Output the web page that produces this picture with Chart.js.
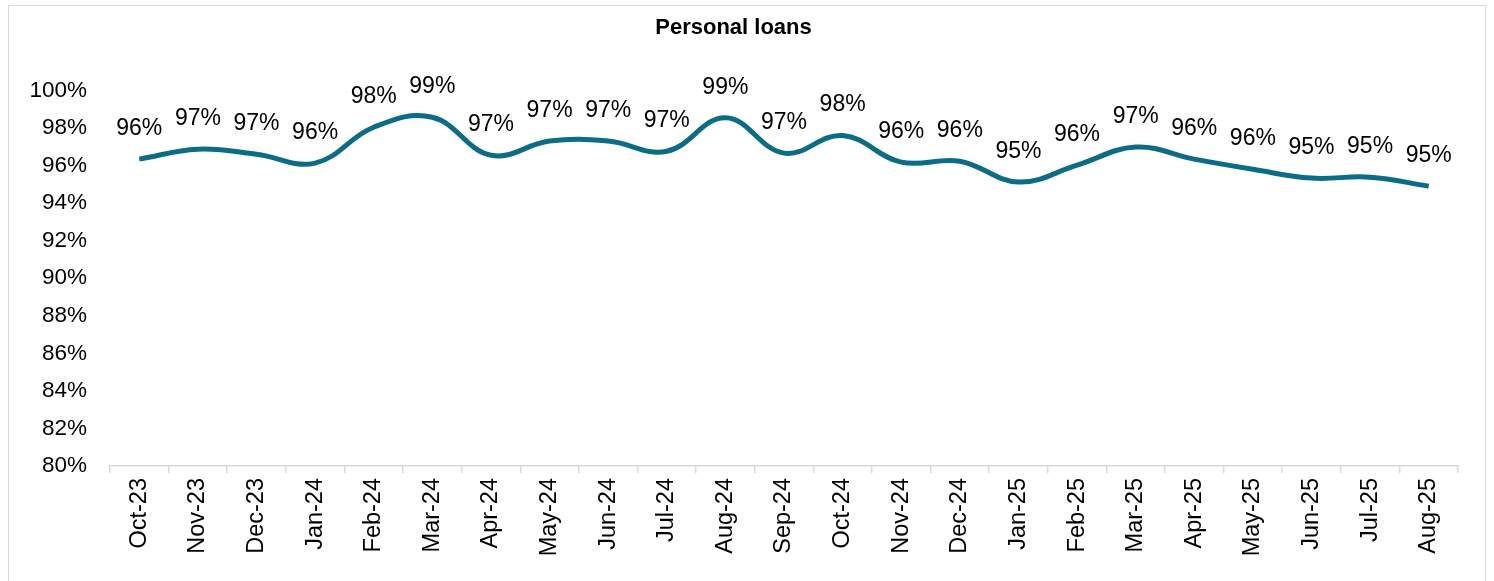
<!DOCTYPE html>
<html>
<head>
<meta charset="utf-8">
<script src="https://cdn.jsdelivr.net/npm/chart.js@4.4.1/dist/chart.umd.min.js"></script>
<style>
  html, body { margin: 0; padding: 0; background: #ffffff; }
  #wrap { position: absolute; left: 8px; top: 5px; width: 1478px; height: 580px; border: 1px solid #d9d9d9; box-sizing: border-box; }
  canvas { display: block; }
</style>
</head>
<body>
<div id="wrap"><canvas id="c" width="1476" height="578"></canvas></div>
<script>
const categories = ["Oct-23","Nov-23","Dec-23","Jan-24","Feb-24","Mar-24","Apr-24","May-24","Jun-24","Jul-24","Aug-24","Sep-24","Oct-24","Nov-24","Dec-24","Jan-25","Feb-25","Mar-25","Apr-25","May-25","Jun-25","Jul-25","Aug-25"];
const personalLoans = [96.34, 96.87, 96.6, 96.13, 98.04, 98.57, 96.55, 97.3, 97.3, 96.76, 98.55, 96.66, 97.6, 96.18, 96.23, 95.12, 96.02, 96.98, 96.34, 95.8, 95.33, 95.38, 94.9];
const yTicks = [80, 82, 84, 86, 88, 90, 92, 94, 96, 98, 100];

const FONT = "'Liberation Sans', Arial, sans-serif";

const labelPlugin = {
  id: 'pointLabels',
  afterDatasetsDraw(chart) {
    const ctx = chart.ctx;
    const meta = chart.getDatasetMeta(0);
    ctx.save();
    ctx.font = "23px " + FONT;
    ctx.fillStyle = "#000000";
    ctx.textAlign = "center";
    ctx.textBaseline = "alphabetic";
    meta.data.forEach((pt, i) => {
      const v = chart.data.datasets[0].data[i];
      ctx.fillText(Math.round(v) + "%", pt.x, pt.y - 24);
    });
    ctx.restore();
  }
};

new Chart(document.getElementById('c'), {
  type: 'line',
  data: {
    labels: categories,
    datasets: [{
      data: personalLoans,
      borderColor: '#0b6c85',
      borderWidth: 5,
      pointRadius: 0,
      tension: 0.4,
      fill: false
    }]
  },
  options: {
    responsive: false,
    animation: false,
    layout: { padding: { left: 0, right: 27, top: 0, bottom: 0 } },
    plugins: {
      legend: { display: false },
      tooltip: { enabled: false },
      title: {
        display: true,
        text: 'Personal loans',
        color: '#000000',
        font: { family: FONT, size: 22, weight: 'bold' },
        padding: { top: 9, bottom: 49 }
      }
    },
    scales: {
      x: {
        offset: true,
        grid: { display: true, offset: true, drawOnChartArea: false, drawTicks: true, tickLength: 7, color: '#d9d9d9', lineWidth: 1.5 },
        border: { display: true, color: '#d9d9d9', width: 1.5 },
        ticks: { color: '#000000', font: { family: FONT, size: 23.5 }, minRotation: 90, maxRotation: 90, padding: 5, autoSkip: false },
        afterFit(scale) { scale.height = 118; }
      },
      y: {
        min: 80, max: 100,
        grid: { display: false, drawTicks: false },
        border: { display: false },
        afterBuildTicks(scale) { scale.ticks = yTicks.map(v => ({ value: v })); },
        ticks: { color: '#000000', font: { family: FONT, size: 22.5 }, padding: 23, callback: v => v + '%' },
        afterFit(scale) { scale.width = 101; }
      }
    }
  },
  plugins: [labelPlugin]
});
</script>
</body>
</html>
